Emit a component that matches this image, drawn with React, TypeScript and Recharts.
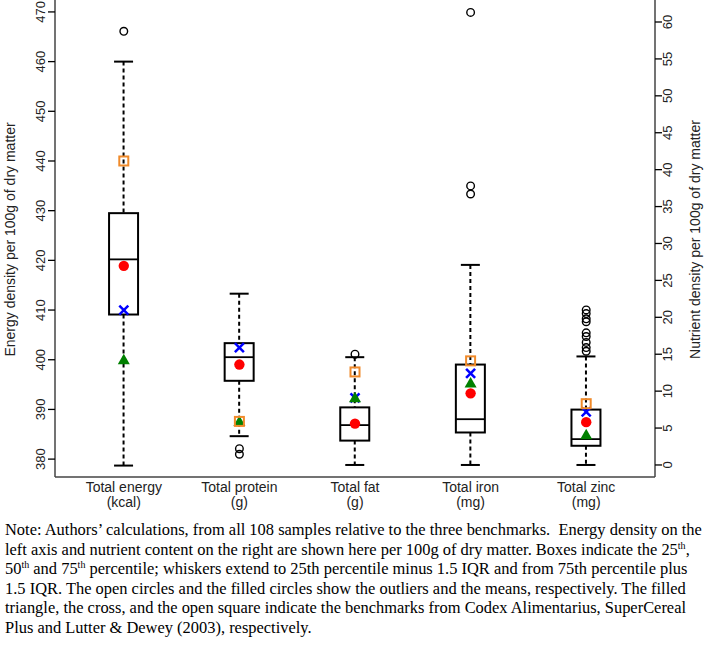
import React from 'react';
import { ComposedChart, Bar, Scatter, XAxis, YAxis } from 'recharts';

// categories and units (x tick labels)
const categories = ['Total energy', 'Total protein', 'Total fat', 'Total iron', 'Total zinc'];
const units = ['(kcal)', '(g)', '(g)', '(mg)', '(mg)'];

// box plot stats; energy (first) is on the left axis, the rest on the right axis
const whiskerLow = [378.7, 3.9, 0, 0, 0];
const q1 = [409.1, 11.4, 3.3, 4.4, 2.6];
const median = [420.2, 14.6, 5.4, 6.2, 3.5];
const q3 = [429.5, 16.5, 7.8, 13.6, 7.5];
const whiskerHigh = [460, 23.2, 14.6, 27.1, 14.7];
const means = [418.9, 13.6, 5.6, 9.7, 5.8];
const outliers = [
  [466.1],
  [2.2, 1.45],
  [15.0],
  [61.3, 37.8, 36.7],
  [21.0, 20.5, 19.8, 19.4, 17.9, 17.4, 16.6, 15.9, 15.4],
];

// benchmarks
const codex = [400, 5.9, 9.1, 11.1, 4.1]; // filled triangle
const superCereal = [410, 15.9, 9.1, 12.4, 7.2]; // cross
const lutterDewey = [440, 5.9, 12.6, 14.1, 8.3]; // open square

const energyTicks = [380, 390, 400, 410, 420, 430, 440, 450, 460, 470];
const nutrientTicks = [0, 5, 10, 15, 20, 25, 30, 35, 40, 45, 50, 55, 60];

const rows = categories.map((name, i) => {
  const s = {
    lo: whiskerLow[i], q1: q1[i], med: median[i], q3: q3[i], hi: whiskerHigh[i],
    mean: means[i], codex: codex[i], cereal: superCereal[i], lutter: lutterDewey[i], out: outliers[i],
  };
  return { name, unit: units[i], e: i === 0 ? s : null, n: i === 0 ? null : s };
});

const MAX_OUT = Math.max(...outliers.map((o) => o.length));
const GROUPS = [
  { g: 'e', axis: 'left' },
  { g: 'n', axis: 'right' },
];

const BoxShape = (props: any) => {
  const { x, y, width, height, payload, group } = props;
  const s = payload && payload[group];
  if (!s || !Number.isFinite(y) || !Number.isFinite(height)) return <g />;
  const cx = x + width / 2;
  const top = y;
  const bottom = y + height;
  const py = (v: number) => top + ((bottom - top) * (s.hi - v)) / (s.hi - s.lo);
  const bw = 29;
  const cap = 19;
  return (
    <g>
      <line x1={cx} x2={cx} y1={top} y2={py(s.q3)} stroke="#000" strokeWidth={2} strokeDasharray="4 3" />
      <line x1={cx} x2={cx} y1={py(s.q1)} y2={bottom} stroke="#000" strokeWidth={2} strokeDasharray="4 3" />
      <line x1={cx - cap / 2} x2={cx + cap / 2} y1={top} y2={top} stroke="#000" strokeWidth={2} />
      <line x1={cx - cap / 2} x2={cx + cap / 2} y1={bottom} y2={bottom} stroke="#000" strokeWidth={2} />
      <rect x={cx - bw / 2} y={py(s.q3)} width={bw} height={py(s.q1) - py(s.q3)} fill="#fff" stroke="#000" strokeWidth={2} />
      <line x1={cx - bw / 2} x2={cx + bw / 2} y1={py(s.med)} y2={py(s.med)} stroke="#000" strokeWidth={1.8} />
    </g>
  );
};

const ok = (p: any) => Number.isFinite(p.cx) && Number.isFinite(p.cy);

const Outlier = (p: any) =>
  ok(p) ? <circle cx={p.cx} cy={p.cy} r={3.8} fill="none" stroke="#000" strokeWidth={1.4} /> : <g />;
const MeanDot = (p: any) => (ok(p) ? <circle cx={p.cx} cy={p.cy} r={5.2} fill="#ff0000" /> : <g />);
const Triangle = (p: any) =>
  ok(p) ? (
    <path d={`M${p.cx},${p.cy - 6} L${p.cx + 6},${p.cy + 4.5} L${p.cx - 6},${p.cy + 4.5} Z`} fill="#008000" />
  ) : (
    <g />
  );
const Cross = (p: any) =>
  ok(p) ? (
    <g stroke="#0000ff" strokeWidth={2.5}>
      <line x1={p.cx - 4.5} y1={p.cy - 4.5} x2={p.cx + 4.5} y2={p.cy + 4.5} />
      <line x1={p.cx - 4.5} y1={p.cy + 4.5} x2={p.cx + 4.5} y2={p.cy - 4.5} />
    </g>
  ) : (
    <g />
  );
const Square = (p: any) =>
  ok(p) ? <rect x={p.cx - 4.5} y={p.cy - 4.5} width={9} height={9} fill="none" stroke="#f08a2a" strokeWidth={2} /> : <g />;

const LeftTick = ({ x, y, payload }: any) => (
  <text x={x - 7.5} y={y} transform={`rotate(-90 ${x - 7.5} ${y})`} textAnchor="middle" dominantBaseline="central" fontSize={13} fill="#222">
    {payload.value}
  </text>
);

const RightTick = ({ x, y, payload }: any) => (
  <text x={x + 6} y={y} transform={`rotate(-90 ${x + 6} ${y})`} textAnchor="middle" dominantBaseline="central" fontSize={13} fill="#222">
    {payload.value}
  </text>
);

const CatTick = ({ x, y, payload }: any) => {
  const i = categories.indexOf(payload.value);
  return (
    <g fontSize={14} fill="#222">
      <text x={x} y={y + 15} textAnchor="middle">{payload.value}</text>
      <text x={x} y={y + 30} textAnchor="middle">{units[i]}</text>
    </g>
  );
};

const axisTitle = (text: string, dx: number, fallbackX: number) => (p: any) => {
  const vb = p.viewBox || {};
  const x = Number.isFinite(vb.x) ? vb.x + dx : fallbackX;
  const y = Number.isFinite(vb.y) ? vb.y + vb.height / 2 + 1 : 240;
  return (
    <text x={x} y={y} transform={`rotate(-90 ${x} ${y})`} textAnchor="middle" dominantBaseline="central" fontSize={14} fill="#222">
      {text}
    </text>
  );
};

const noteStyle: React.CSSProperties = { whiteSpace: 'pre', height: 19.6 };
const sup: React.CSSProperties = { fontSize: 10, verticalAlign: 'top', lineHeight: '12px' };

export default function App() {
  return (
    <div style={{ position: 'absolute', top: 0, left: 0, width: 709, height: 647, background: '#fff' }}>
      <ComposedChart
        width={709}
        height={520}
        data={rows}
        margin={{ top: 0, right: 0, bottom: 0, left: 0 }}
        style={{ fontFamily: '"Liberation Sans", Arial, sans-serif' }}
      >
        <XAxis
          xAxisId="e"
          dataKey="name"
          type="category"
          padding={{ left: 11, right: 11 }}
          height={43}
          tickLine={false}
          tickSize={0}
          tickMargin={0}
          interval={0}
          tick={<CatTick />}
          axisLine={{ stroke: '#444', strokeWidth: 1.5 }}
        />
        <XAxis xAxisId="n" dataKey="name" type="category" padding={{ left: 11, right: 11 }} hide />
        <YAxis
          yAxisId="left"
          orientation="left"
          width={55}
          type="number"
          domain={[376.4, 472.4]}
          ticks={energyTicks}
          allowDataOverflow
          tickSize={7}
          tickMargin={0}
          tick={<LeftTick />}
          tickLine={{ stroke: '#000', strokeWidth: 1.3 }}
          axisLine={{ stroke: '#444', strokeWidth: 1.5 }}
          label={axisTitle('Energy density per 100g of dry matter', 10, 10)}
        />
        <YAxis
          yAxisId="right"
          orientation="right"
          width={54}
          type="number"
          domain={[-1.63, 62.98]}
          ticks={nutrientTicks}
          allowDataOverflow
          tickSize={7}
          tickMargin={0}
          tick={<RightTick />}
          tickLine={{ stroke: '#000', strokeWidth: 1.3 }}
          axisLine={{ stroke: '#444', strokeWidth: 1.5 }}
          label={axisTitle('Nutrient density per 100g of dry matter', 40, 695)}
        />
        {GROUPS.map(({ g, axis }) => (
          <Bar
            key={`box-${g}`}
            xAxisId={g}
            yAxisId={axis}
            dataKey={(d: any) => (d[g] ? [d[g].lo, d[g].hi] : null)}
            isAnimationActive={false}
            shape={(p: any) => <BoxShape {...p} group={g} />}
          />
        ))}
        {GROUPS.flatMap(({ g, axis }) =>
          Array.from({ length: MAX_OUT }, (_, k) => (
            <Scatter
              key={`out-${g}-${k}`}
              xAxisId={g}
              yAxisId={axis}
              dataKey={(d: any) => (d[g] ? d[g].out[k] : undefined)}
              isAnimationActive={false}
              shape={<Outlier />}
            />
          )),
        )}
        {GROUPS.map(({ g, axis }) => (
          <Scatter key={`mean-${g}`} xAxisId={g} yAxisId={axis} dataKey={(d: any) => d[g]?.mean} isAnimationActive={false} shape={<MeanDot />} />
        ))}
        {GROUPS.map(({ g, axis }) => (
          <Scatter key={`cereal-${g}`} xAxisId={g} yAxisId={axis} dataKey={(d: any) => d[g]?.cereal} isAnimationActive={false} shape={<Cross />} />
        ))}
        {GROUPS.map(({ g, axis }) => (
          <Scatter key={`codex-${g}`} xAxisId={g} yAxisId={axis} dataKey={(d: any) => d[g]?.codex} isAnimationActive={false} shape={<Triangle />} />
        ))}
        {GROUPS.map(({ g, axis }) => (
          <Scatter key={`lutter-${g}`} xAxisId={g} yAxisId={axis} dataKey={(d: any) => d[g]?.lutter} isAnimationActive={false} shape={<Square />} />
        ))}
      </ComposedChart>
      <div style={{ fontFamily: '"Liberation Serif", "Times New Roman", serif', fontSize: 16.45, lineHeight: '19.6px', paddingLeft: 5, color: '#000' }}>
        <div style={noteStyle}>Note: Authors’ calculations, from all 108 samples relative to the three benchmarks.  Energy density on the</div>
        <div style={noteStyle}>
          left axis and nutrient content on the right are shown here per 100g of dry matter. Boxes indicate the 25<span style={sup}>th</span>,
        </div>
        <div style={noteStyle}>
          50<span style={sup}>th</span> and 75<span style={sup}>th</span> percentile; whiskers extend to 25th percentile minus 1.5 IQR and from 75th percentile plus
        </div>
        <div style={noteStyle}>1.5 IQR. The open circles and the filled circles show the outliers and the means, respectively. The filled</div>
        <div style={noteStyle}>triangle, the cross, and the open square indicate the benchmarks from Codex Alimentarius, SuperCereal</div>
        <div style={noteStyle}>Plus and Lutter &amp; Dewey (2003), respectively.</div>
      </div>
    </div>
  );
}
